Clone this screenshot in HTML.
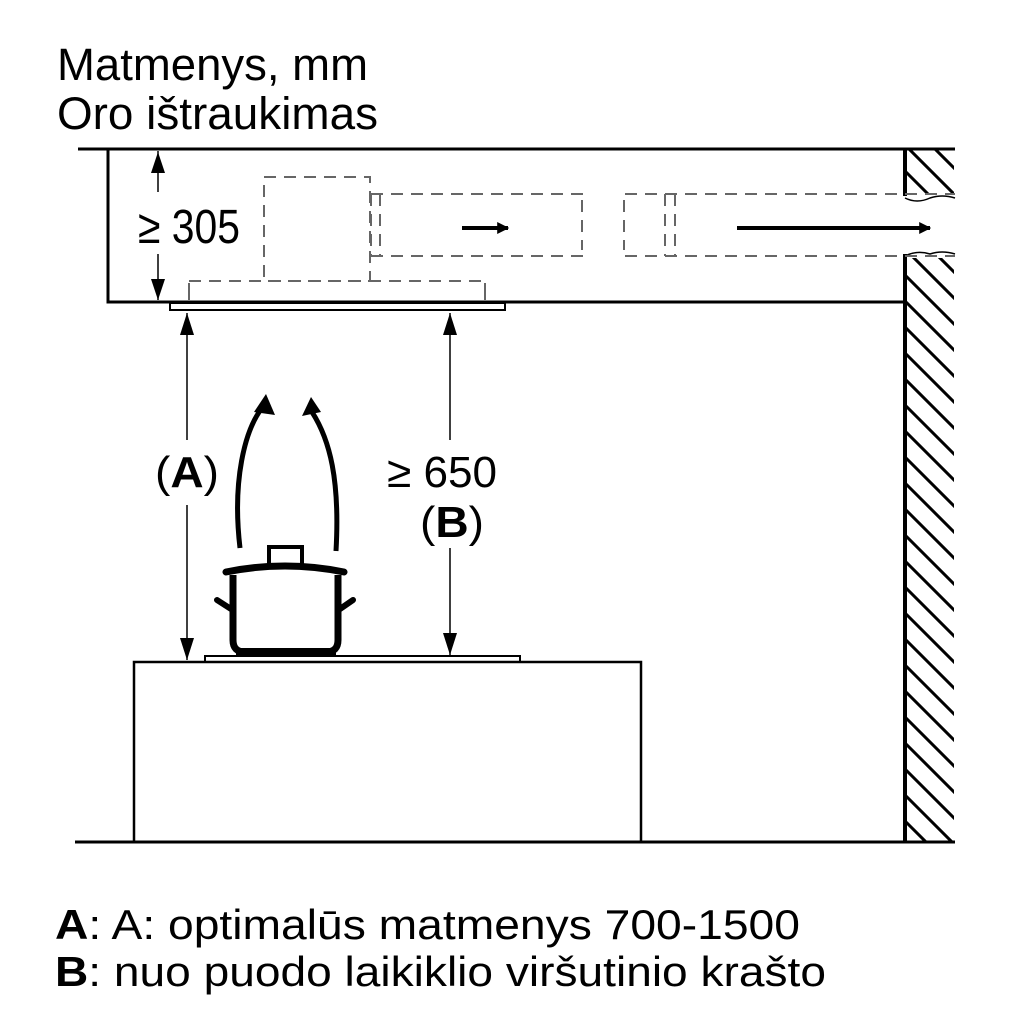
<!DOCTYPE html>
<html><head><style>html,body{margin:0;padding:0;background:#fff;}svg{display:block;}</style></head>
<body>
<svg width="1024" height="1024" viewBox="0 0 1024 1024" xmlns="http://www.w3.org/2000/svg" font-family="'Liberation Sans', sans-serif">
<defs>
<clipPath id="wc"><rect x="906" y="149" width="48" height="693"/></clipPath>
<marker id="ah" viewBox="0 0 10 10" refX="9" refY="5" markerWidth="12" markerHeight="12" markerUnits="userSpaceOnUse" orient="auto"><path d="M0,0 L10,5 L0,10 z" fill="#000"/></marker>
</defs>
<rect width="1024" height="1024" fill="#fff"/>
<text x="57" y="80" font-size="45" textLength="311" lengthAdjust="spacingAndGlyphs">Matmenys, mm</text>
<text x="57" y="129" font-size="45" textLength="321" lengthAdjust="spacingAndGlyphs">Oro ištraukimas</text>

<g clip-path="url(#wc)" stroke="#000" stroke-width="3">
<path d="M906,120 l60,60 M906,146 l60,60 M906,172 l60,60 M906,198 l60,60 M906,224 l60,60 M906,250 l60,60 M906,276 l60,60 M906,302 l60,60 M906,328 l60,60 M906,354 l60,60 M906,380 l60,60 M906,406 l60,60 M906,432 l60,60 M906,458 l60,60 M906,484 l60,60 M906,510 l60,60 M906,536 l60,60 M906,562 l60,60 M906,588 l60,60 M906,614 l60,60 M906,640 l60,60 M906,666 l60,60 M906,692 l60,60 M906,718 l60,60 M906,744 l60,60 M906,770 l60,60 M906,796 l60,60 M906,822 l60,60"/>
</g>
<rect x="903" y="195" width="54" height="63" fill="#fff"/>
<path d="M905,198 q12,6 25,0 q12,-4 25,0 M905,256 q12,-6 25,-2 q12,-4 25,0" fill="none" stroke="#000" stroke-width="1.5"/>
<line x1="905" y1="149" x2="905" y2="196" stroke="#000" stroke-width="4"/>
<line x1="905" y1="254" x2="905" y2="842" stroke="#000" stroke-width="4"/>

<line x1="78" y1="149" x2="955" y2="149" stroke="#000" stroke-width="3"/>
<path d="M108,149 V302 H905" fill="none" stroke="#000" stroke-width="3"/>
<rect x="170" y="303" width="335" height="7" fill="#fff" stroke="#000" stroke-width="2"/>

<g fill="none" stroke="#666" stroke-width="2" stroke-dasharray="12,8">
<rect x="264" y="177" width="106" height="104"/>
<path d="M189,281 H485"/>
<path d="M371,194 H583 M371,256 H583 M371,194 V256 M380,194 V256"/>
<path d="M625,194 H955 M625,256 H955 M665,194 V256 M675,194 V256"/>
<path d="M582,200 V250 M624,200 V250"/>
</g>
<path d="M189,283 V300 M485,283 V300" stroke="#666" stroke-width="2"/>

<line x1="462" y1="228" x2="508" y2="228" stroke="#000" stroke-width="4" marker-end="url(#ah)"/>
<line x1="737" y1="228" x2="930" y2="228" stroke="#000" stroke-width="4" marker-end="url(#ah)"/>

<line x1="158" y1="151" x2="158" y2="192" stroke="#000" stroke-width="1.5"/>
<path d="M151,173 L158,152 L165,173 z"/>
<line x1="158" y1="254" x2="158" y2="300" stroke="#000" stroke-width="1.5"/>
<path d="M151,279 L158,300 L165,279 z"/>
<text x="138" y="243" font-size="48" textLength="102" lengthAdjust="spacingAndGlyphs">≥ 305</text>

<line x1="187" y1="313" x2="187" y2="440" stroke="#000" stroke-width="1.5"/>
<path d="M180,335 L187,313 L194,335 z"/>
<line x1="187" y1="505" x2="187" y2="660" stroke="#000" stroke-width="1.5"/>
<path d="M180,638 L187,660 L194,638 z"/>
<text x="155" y="487" font-size="44" textLength="64" lengthAdjust="spacingAndGlyphs">(<tspan font-weight="bold">A</tspan>)</text>

<line x1="450" y1="313" x2="450" y2="440" stroke="#000" stroke-width="1.5"/>
<path d="M443,335 L450,313 L457,335 z"/>
<line x1="450" y1="548" x2="450" y2="655" stroke="#000" stroke-width="1.5"/>
<path d="M443,633 L450,655 L457,633 z"/>
<text x="387" y="487" font-size="44" textLength="110" lengthAdjust="spacingAndGlyphs">≥ 650</text>
<text x="420" y="537" font-size="44" textLength="64" lengthAdjust="spacingAndGlyphs">(<tspan font-weight="bold">B</tspan>)</text>

<path d="M240,548 C232,480 245,430 262,408" fill="none" stroke="#000" stroke-width="5"/>
<path d="M254,412 L266,394 L275,415 z"/>
<path d="M336,551 C340,480 330,440 312,412" fill="none" stroke="#000" stroke-width="5"/>
<path d="M302,416 L311,397 L321,412 z"/>

<rect x="269" y="547" width="33" height="20" fill="#fff" stroke="#000" stroke-width="4"/>
<path d="M226,572 Q285,560 344,572" fill="none" stroke="#000" stroke-width="7" stroke-linecap="round"/>
<path d="M233,575 V640 Q233,652 245,652 H326 Q338,652 338,640 V575" fill="none" stroke="#000" stroke-width="7"/>
<path d="M236,652 H336" stroke="#000" stroke-width="8"/>
<path d="M231,609 L217,600 M340,609 L353,600" stroke="#000" stroke-width="6" stroke-linecap="round"/>

<rect x="205" y="656" width="315" height="6" fill="#fff" stroke="#000" stroke-width="2"/>
<rect x="134" y="662" width="507" height="180" fill="none" stroke="#000" stroke-width="2.5"/>
<line x1="75" y1="842" x2="955" y2="842" stroke="#000" stroke-width="3"/>

<text x="55" y="939" font-size="42" textLength="745" lengthAdjust="spacingAndGlyphs"><tspan font-weight="bold">A</tspan>: A: optimalūs matmenys 700-1500</text>
<text x="55" y="986" font-size="42" textLength="771" lengthAdjust="spacingAndGlyphs"><tspan font-weight="bold">B</tspan>: nuo puodo laikiklio viršutinio krašto</text>
</svg>
</body></html>
